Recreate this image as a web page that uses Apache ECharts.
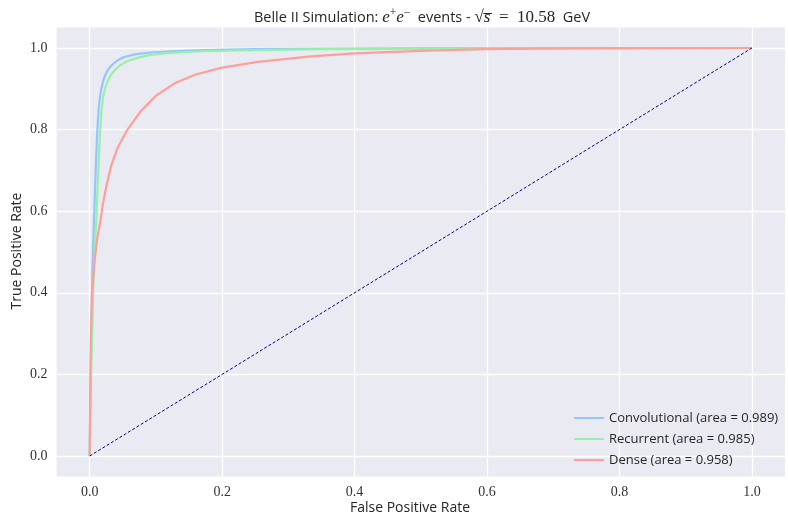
<!DOCTYPE html>
<html>
<head>
<meta charset="utf-8">
<script src="https://cdn.jsdelivr.net/npm/echarts@6/dist/echarts.min.js"></script>
<style>
  html, body { margin: 0; padding: 0; background: #fff; }
  #main { width: 788px; height: 517px; }
</style>
</head>
<body>
<div id="main"></div>
<script>
// ROC curves: [false positive rate, true positive rate]
var convolutional = [
  [0, 0], [0.001, 0.15], [0.0025, 0.30], [0.004, 0.45], [0.0065, 0.58], [0.009, 0.70],
  [0.0115, 0.80], [0.0135, 0.85], [0.0155, 0.88], [0.0175, 0.900], [0.02, 0.917], [0.0225, 0.93],
  [0.027, 0.945], [0.0325, 0.957], [0.042, 0.970], [0.052, 0.978], [0.07, 0.985], [0.092, 0.989],
  [0.122, 0.992], [0.17, 0.995], [0.25, 0.997], [0.35, 0.998], [0.5, 0.999], [0.7, 0.9995], [1, 1]
];
var recurrent = [
  [0, 0], [0.001, 0.13], [0.0035, 0.28], [0.0055, 0.42], [0.008, 0.52], [0.010, 0.58],
  [0.013, 0.70], [0.0155, 0.79], [0.0175, 0.84], [0.020, 0.878], [0.0235, 0.903],
  [0.0275, 0.92], [0.032, 0.934], [0.0375, 0.945], [0.046, 0.958], [0.057, 0.968], [0.075, 0.977],
  [0.092, 0.983], [0.122, 0.988], [0.17, 0.992], [0.25, 0.995], [0.35, 0.997], [0.5, 0.998],
  [0.7, 0.999], [1, 1]
];
var dense = [
  [0, 0], [0.0015, 0.284], [0.0035, 0.40], [0.0075, 0.48], [0.0115, 0.535], [0.0165, 0.578],
  [0.020, 0.619], [0.025, 0.66], [0.0325, 0.712], [0.042, 0.755], [0.057, 0.80],
  [0.077, 0.845], [0.1, 0.883], [0.13, 0.915], [0.16, 0.935], [0.2, 0.952], [0.254, 0.966],
  [0.33, 0.979], [0.40, 0.987], [0.5, 0.993], [0.6, 0.997], [0.7, 0.999], [0.8, 0.9995], [1, 1]
];
var chance = [[0, 0], [1, 1]];

var seriesNames = ['Convolutional (area = 0.989)', 'Recurrent (area = 0.985)', 'Dense (area = 0.958)'];
var seriesColors = ['#92C6FF', '#97F0AA', '#FF9F9A'];
var tickValues = [0, 0.2, 0.4, 0.6, 0.8, 1.0];

var sans = '"Open Sans", "DejaVu Sans", sans-serif';
var serif = '"Liberation Serif", "DejaVu Serif", serif';

function tickLabel(v) {
  var r = Math.round(v * 100);
  for (var i = 0; i < tickValues.length; i++) {
    if (Math.round(tickValues[i] * 100) === r) return tickValues[i].toFixed(1);
  }
  return '';
}
// minor steps of 0.05 from -0.05: only every fourth line (0, 0.2, ...) is drawn
var gridColors = ['rgba(0,0,0,0)', '#ffffff', 'rgba(0,0,0,0)', 'rgba(0,0,0,0)'];

function valueAxis() {
  return {
    type: 'value',
    min: -0.05,
    max: 1.05,
    interval: 0.05,
    axisLine: { show: false },
    axisTick: { show: false },
    axisLabel: { formatter: tickLabel, fontFamily: serif, fontSize: 14, color: '#333', margin: 9 },
    splitLine: { show: true, lineStyle: { color: gridColors, width: 1.3 } }
  };
}

function rocLine(i, data) {
  return {
    name: seriesNames[i], type: 'line', data: data, symbol: 'none', showSymbol: false,
    color: seriesColors[i], lineStyle: { width: 2.2, color: seriesColors[i] }
  };
}

var myChart = echarts.init(document.getElementById('main'));
myChart.setOption({
  backgroundColor: '#ffffff',
  animation: false,
  title: {
    left: 417,
    top: 2,
    textAlign: 'center',
    text: '{s|Belle II Simulation: }{m|e}{sup|+}{m|e}{sup|\u2212}{s|  events - }{r|\u221A}{m|s\u0305}{r|  =  10.58}{s|  GeV}',
    textStyle: {
      fontWeight: 'normal',
      rich: {
        s: { fontFamily: sans, fontSize: 14.5, fontWeight: 'normal', color: '#262626', lineHeight: 22 },
        m: { fontFamily: serif, fontStyle: 'italic', fontWeight: 'normal', fontSize: 17, color: '#262626', lineHeight: 22 },
        r: { fontFamily: serif, fontSize: 17, fontWeight: 'normal', color: '#262626', lineHeight: 22 },
        sup: { fontFamily: serif, fontSize: 11.5, fontWeight: 'normal', color: '#262626', lineHeight: 22, verticalAlign: 'top' }
      }
    }
  },
  grid: { left: 56.6, right: -3.4, top: 27.6, bottom: 40.6, show: true, backgroundColor: '#EAEAF2', borderWidth: 0 },
  legend: {
    orient: 'vertical',
    left: 569,
    top: 406,
    icon: 'rect',
    itemWidth: 30,
    itemHeight: 2,
    itemGap: 7,
    itemTextGap: 11,
    textStyle: { fontFamily: sans, fontSize: 13, color: '#262626', lineHeight: 14 },
    data: seriesNames
  },
  xAxis: valueAxis(),
  yAxis: valueAxis(),
  graphic: [
    { type: 'text', style: { text: 'False Positive Rate', align: 'center', verticalAlign: 'middle', fontFamily: sans, fontSize: 14, fill: '#262626' }, x: 410, y: 508 },
    { type: 'text', style: { text: 'True Positive Rate', align: 'center', verticalAlign: 'middle', fontFamily: sans, fontSize: 14, fill: '#262626' }, x: 17, y: 251, rotation: Math.PI / 2 }
  ],
  series: [
    rocLine(0, convolutional),
    rocLine(1, recurrent),
    rocLine(2, dense),
    { name: 'chance', type: 'line', data: chance, symbol: 'none', color: '#000080', lineStyle: { width: 1, type: [3, 2], color: '#000080' } }
  ]
});
</script>
</body>
</html>
